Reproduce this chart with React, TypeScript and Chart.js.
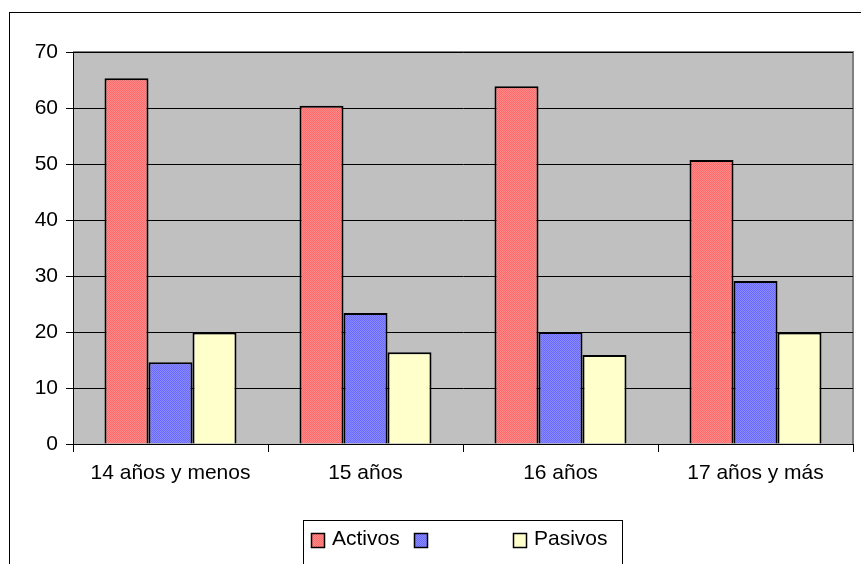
import React, { useEffect, useRef } from "react";
import { Chart, registerables } from "chart.js";

Chart.register(...registerables);

// ---- data ----
const categories = ["14 años y menos", "15 años", "16 años", "17 años y más"];
const activos = [65.3, 60.4, 63.9, 50.7];
const medios = [14.6, 23.4, 20.0, 29.1];
const pasivos = [19.9, 16.4, 15.9, 19.9];
const seriesLabels = ["Activos", "", "Pasivos"];
const yMin = 0;
const yMax = 70;
const yStep = 10;

const FONT = "'Liberation Sans', Arial, sans-serif";
const FSIZE = 21;

function makePattern(c1: string, c2: string): CanvasPattern | string {
  const p = document.createElement("canvas");
  p.width = 2;
  p.height = 2;
  const g = p.getContext("2d");
  if (!g) return c1;
  g.fillStyle = c1;
  g.fillRect(0, 0, 2, 2);
  g.fillStyle = c2;
  g.fillRect(0, 0, 1, 1);
  g.fillRect(1, 1, 1, 1);
  const ctx = document.createElement("canvas").getContext("2d");
  const pat = ctx ? ctx.createPattern(p, "repeat") : null;
  return pat || c1;
}

const framePlugin = {
  id: "frameBg",
  beforeDraw(chart: any) {
    const { ctx, chartArea } = chart;
    ctx.save();
    ctx.fillStyle = "#ffffff";
    ctx.fillRect(0, 0, chart.width, chart.height);
    ctx.strokeStyle = "#000000";
    ctx.lineWidth = 1;
    ctx.strokeRect(9.5, 12.5, chart.width + 20, chart.height + 40);
    // plot area
    ctx.fillStyle = "#c0c0c0";
    ctx.fillRect(chartArea.left, chartArea.top, chartArea.right - chartArea.left, chartArea.bottom - chartArea.top);
    ctx.strokeStyle = "#808080";
    ctx.lineWidth = 2;
    ctx.beginPath();
    ctx.moveTo(chartArea.left, chartArea.top);
    ctx.lineTo(chartArea.right, chartArea.top);
    ctx.lineTo(chartArea.right, chartArea.bottom);
    ctx.stroke();
    ctx.restore();
  },
};

const legendPlugin = {
  id: "boxLegend",
  afterDraw(chart: any) {
    const { ctx } = chart;
    ctx.save();
    ctx.strokeStyle = "#000000";
    ctx.lineWidth = 1;
    ctx.fillStyle = "#ffffff";
    ctx.fillRect(303.5, 520.5, 319, 60);
    ctx.strokeRect(303.5, 520.5, 319, 60);
    const xs = [311, 414, 513];
    ctx.font = `${FSIZE}px ${FONT}`;
    ctx.textBaseline = "middle";
    ctx.textAlign = "left";
    chart.data.datasets.forEach((ds: any, i: number) => {
      const x = xs[i];
      ctx.fillStyle = ds.backgroundColor;
      ctx.fillRect(x, 533, 13, 15);
      ctx.lineWidth = 1.5;
      ctx.strokeStyle = "#000000";
      ctx.strokeRect(x + 0.5, 533.5, 13, 14);
      if (ds.label) {
        ctx.fillStyle = "#000000";
        ctx.fillText(ds.label, x + 21, 539);
      }
    });
    ctx.restore();
  },
};

export default function App() {
  const ref = useRef<HTMLCanvasElement | null>(null);

  useEffect(() => {
    if (!ref.current) return;
    const red = makePattern("#ff8a8a", "#ff6a6a");
    const blue = makePattern("#8a8aff", "#6a6aff");
    const yellow = "#ffffcc";
    const chart = new Chart(ref.current, {
      type: "bar",
      data: {
        labels: categories,
        datasets: [
          { label: seriesLabels[0], data: activos, backgroundColor: red as any, borderColor: "#000000", borderWidth: 2 },
          { label: seriesLabels[1], data: medios, backgroundColor: blue as any, borderColor: "#000000", borderWidth: 2 },
          { label: seriesLabels[2], data: pasivos, backgroundColor: yellow, borderColor: "#000000", borderWidth: 2 },
        ],
      },
      options: {
        responsive: false,
        animation: false,
        devicePixelRatio: 1,
        layout: { padding: { left: 0, top: 52, right: 8, bottom: 0 } },
        plugins: {
          legend: { display: false },
          tooltip: { enabled: false },
        },
        datasets: {
          bar: { categoryPercentage: 0.677, barPercentage: 1.0 },
        },
        scales: {
          x: {
            grid: {
              offset: true,
              drawOnChartArea: false,
              drawTicks: true,
              tickLength: 8,
              color: "#000000",
            },
            border: { display: true, color: "#000000", width: 1 },
            ticks: {
              color: "#000000",
              font: { family: FONT, size: FSIZE },
              padding: 9,
              maxRotation: 0,
              autoSkip: false,
            },
            afterFit(scale: any) {
              scale.height = 120;
            },
          },
          y: {
            min: yMin,
            max: yMax,
            grid: {
              color: "#000000",
              lineWidth: 1,
              drawTicks: true,
              tickLength: 7,
            },
            border: { display: true, color: "#000000", width: 1 },
            ticks: {
              stepSize: yStep,
              color: "#000000",
              font: { family: FONT, size: FSIZE },
              padding: 8,
            },
            afterFit(scale: any) {
              scale.width = 73;
            },
          },
        },
      },
      plugins: [framePlugin, legendPlugin],
    });
    return () => chart.destroy();
  }, []);

  return (
    <div style={{ position: "absolute", left: 0, top: 0, width: 861, height: 564, overflow: "hidden" }}>
      <canvas ref={ref} width={861} height={564} style={{ display: "block" }} />
    </div>
  );
}
